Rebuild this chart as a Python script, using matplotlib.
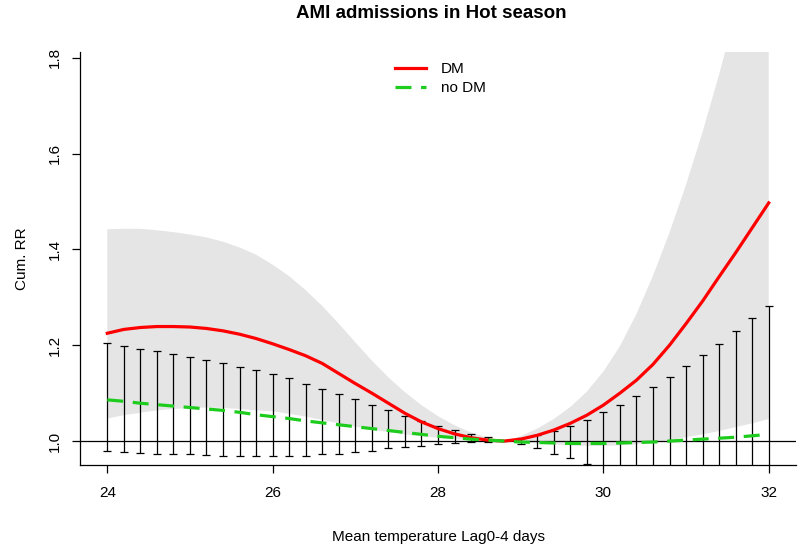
import matplotlib
matplotlib.use("Agg")
import matplotlib.pyplot as plt
from matplotlib.lines import Line2D

plt.rcParams['font.family'] = ['Liberation Sans', 'DejaVu Sans']

# Temperature grid (mean temperature lag0-4 days)
temps = [24.0, 24.2, 24.4, 24.6, 24.8, 25.0, 25.2, 25.4, 25.6, 25.8,
         26.0, 26.2, 26.4, 26.6, 26.8, 27.0, 27.2, 27.4, 27.6, 27.8,
         28.0, 28.2, 28.4, 28.6, 28.8, 29.0, 29.2, 29.4, 29.6, 29.8,
         30.0, 30.2, 30.4, 30.6, 30.8, 31.0, 31.2, 31.4, 31.6, 31.8, 32.0]

# DM: cumulative RR and 95% CI (grey band)
dm_rr = [1.225, 1.233, 1.237, 1.239, 1.239, 1.238, 1.235, 1.230, 1.223, 1.214,
         1.203, 1.191, 1.178, 1.162, 1.141, 1.120, 1.100, 1.079, 1.058, 1.040,
         1.026, 1.015, 1.007, 1.002, 1.000, 1.004, 1.012, 1.023, 1.037, 1.054,
         1.075, 1.100, 1.127, 1.160, 1.200, 1.245, 1.292, 1.343, 1.393, 1.445, 1.497]
dm_low = [1.047, 1.054, 1.059, 1.064, 1.067, 1.069, 1.070, 1.069, 1.067, 1.064,
          1.062, 1.057, 1.051, 1.044, 1.037, 1.030, 1.024, 1.019, 1.014, 1.010,
          1.007, 1.004, 1.002, 1.001, 1.000, 0.998, 0.995, 0.993, 0.991, 0.990,
          0.990, 0.991, 0.993, 0.997, 1.002, 1.008, 1.014, 1.021, 1.029, 1.037, 1.046]
dm_high = [1.442, 1.443, 1.443, 1.440, 1.436, 1.431, 1.425, 1.416, 1.404, 1.389,
           1.368, 1.344, 1.315, 1.282, 1.245, 1.206, 1.168, 1.133, 1.102, 1.075,
           1.052, 1.033, 1.018, 1.007, 1.000, 1.010, 1.026, 1.046, 1.071, 1.103,
           1.145, 1.198, 1.265, 1.345, 1.435, 1.535, 1.645, 1.765, 1.895, 2.030, 2.170]

# no DM: cumulative RR and 95% CI (error bars)
nodm_rr = [1.086, 1.083, 1.079, 1.076, 1.073, 1.070, 1.067, 1.064, 1.060, 1.055,
           1.051, 1.047, 1.042, 1.038, 1.034, 1.030, 1.026, 1.022, 1.018, 1.014,
           1.010, 1.007, 1.004, 1.002, 1.000, 0.998, 0.997, 0.996, 0.995, 0.995,
           0.995, 0.996, 0.997, 0.998, 1.000, 1.002, 1.004, 1.006, 1.008, 1.011, 1.014]
nodm_low = [0.979, 0.977, 0.976, 0.974, 0.9735, 0.972, 0.971, 0.969, 0.969, 0.969,
            0.969, 0.969, 0.969, 0.972, 0.974, 0.978, 0.980, 0.985, 0.9875, 0.990,
            0.994, 0.997, 0.9985, 0.999, 1.000, 0.9937, 0.9847, 0.974, 0.964, 0.953,
            0.934, 0.923, 0.909, 0.895, 0.883, 0.868, 0.854, 0.841, 0.826, 0.813, 0.802]
nodm_high = [1.205, 1.199, 1.192, 1.189, 1.182, 1.176, 1.169, 1.163, 1.154, 1.148,
             1.139, 1.131, 1.120, 1.109, 1.098, 1.088, 1.075, 1.064, 1.053, 1.042,
             1.032, 1.023, 1.014, 1.008, 1.000, 1.0056, 1.0125, 1.0215, 1.032, 1.045,
             1.0605, 1.075, 1.094, 1.113, 1.133, 1.157, 1.180, 1.203, 1.230, 1.257, 1.282]

xticks = [24, 26, 28, 30, 32]
yticks = [1.0, 1.2, 1.4, 1.6, 1.8]
title = "AMI admissions in Hot season"
xlabel = "Mean temperature Lag0-4 days"
ylabel = "Cum. RR"
labels = ["DM", "no DM"]

fig = plt.figure(figsize=(8, 5.5), dpi=100)
ax = fig.add_axes([0.1, 0.1545, 0.895, 0.751])

ax.fill_between(temps, dm_low, dm_high, color='#E5E5E5', linewidth=0, zorder=1)

# error bars (skip zero-length at reference temperature)
ex, ey, elo, ehi = [], [], [], []
for t, r, lo, hi in zip(temps, nodm_rr, nodm_low, nodm_high):
    if hi - lo > 1e-9:
        ex.append(t); ey.append(r); elo.append(r - lo); ehi.append(hi - r)
ax.errorbar(ex, ey, yerr=[elo, ehi], fmt='none', ecolor='black',
            elinewidth=0.9, capsize=2.6, capthick=0.9, zorder=2)

ax.axhline(1.0, color='black', linewidth=0.9, zorder=3)
ax.plot(temps, dm_rr, color='#FF0000', linewidth=2.3, zorder=4)
ax.plot(temps, nodm_rr, color='#1ECC1E', linewidth=2.3, dashes=(5, 3), zorder=5)

ax.set_xlim(23.67, 32.33)
ax.set_ylim(0.95, 1.812)
ax.set_xticks(xticks)
ax.set_xticklabels([str(v) for v in xticks], fontsize=11)
ax.set_yticks(yticks)
ax.set_yticklabels([f"{v:.1f}" for v in yticks], fontsize=11, rotation=90, va='center')
ax.tick_params(axis='both', direction='out', length=6, width=0.9, color='black')
ax.tick_params(axis='x', pad=9)
ax.tick_params(axis='y', pad=7)
for s in ['top', 'right']:
    ax.spines[s].set_visible(False)
for s in ['left', 'bottom']:
    ax.spines[s].set_linewidth(0.9)

ax.set_xlabel(xlabel, fontsize=11, va='center')
ax.xaxis.set_label_coords(0.5, (465 - 537) / 413)
ax.set_ylabel(ylabel, fontsize=11, va='center')
ax.yaxis.set_label_coords((22 - 80) / 716, 0.5)

fig.text(0.539, 1 - 14 / 550, title, ha='center', va='center',
         fontsize=13.5, fontweight='bold')

handles = [Line2D([], [], color='#FF0000', linewidth=2.3),
           Line2D([], [], color='#1ECC1E', linewidth=2.3, dashes=(5, 3))]
ax.legend(handles, labels, loc='upper left', bbox_to_anchor=(0.44, 0.975),
          frameon=False, fontsize=11, handlelength=2.0, handletextpad=1.0,
          labelspacing=0.3, borderpad=0, borderaxespad=0)

fig.savefig("out.png", dpi=100)
